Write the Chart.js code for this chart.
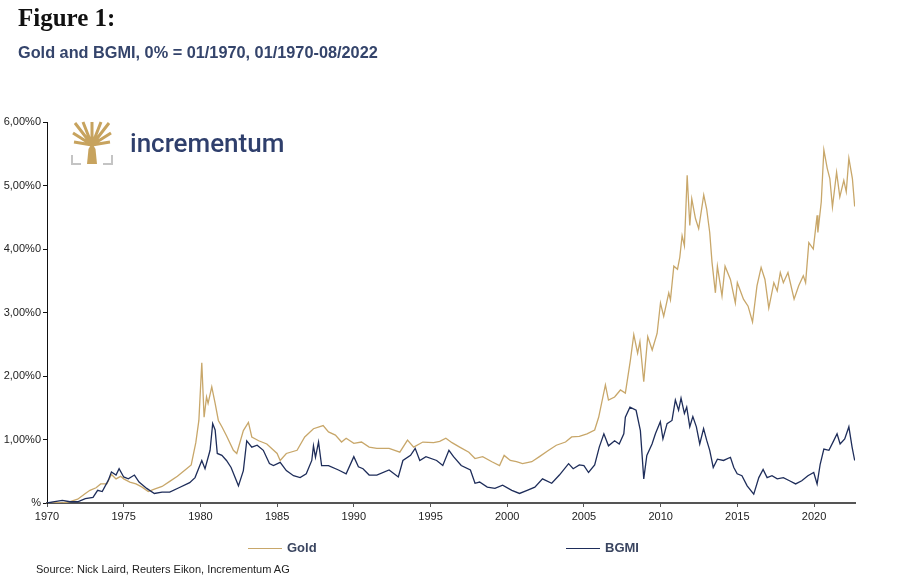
<!DOCTYPE html>
<html>
<head>
<meta charset="utf-8">
<script src="https://cdn.jsdelivr.net/npm/chart.js@4.4.0/dist/chart.umd.min.js"></script>
<style>
  body { margin: 0; background: #fff; font-family: "Liberation Sans", Arial, sans-serif; }
  #page { position: relative; width: 900px; height: 579px; overflow: hidden; }
  #chart { position: absolute; left: 0; top: 0; }
  .title { position: absolute; left: 18px; top: 4px; font-family: "Liberation Serif", serif; font-weight: bold; font-size: 25px; color: #111; }
  .subtitle { position: absolute; left: 18px; top: 43px; font-weight: bold; font-size: 16.3px; color: #34446b; }
  .logo { position: absolute; left: 71px; top: 121px; }
  .brand { position: absolute; left: 130px; top: 128px; font-family: Roboto, "Liberation Sans", sans-serif; font-weight: 500; font-size: 26px; color: #2f3f6c; }
  .legend { position: absolute; top: 540px; font-weight: bold; font-size: 13px; color: #3a4560; }
  .legend span.line { display: inline-block; width: 34px; height: 0; border-top: 1px solid; vertical-align: middle; margin-right: 5px; }
  .source { position: absolute; left: 36px; top: 563px; font-size: 11px; color: #222; }
</style>
</head>
<body>
<div id="page">
  <canvas id="chart" width="900" height="579"></canvas>
  <div class="title">Figure 1:</div>
  <div class="subtitle">Gold and BGMI, 0% = 01/1970, 01/1970-08/2022</div>
  <svg class="logo" width="42" height="44" viewBox="0 0 42 44">
    <g stroke="#c7a35e" stroke-width="3" fill="none" stroke-linecap="butt">
      <path d="M21 24 L4 2 M21 24 L38 2 M21 24 L2 12 M21 24 L40 12 M21 24 L3 21 M21 24 L39 21 M21 24 L12 1 M21 24 L30 1 M21 24 L21 1"/>
    </g>
    <path d="M16 43 L17.5 28 L21 22 L24.5 28 L26 43 Z" fill="#c7a35e"/>
    <g stroke="#c4c4c4" stroke-width="2" fill="none">
      <path d="M1 34 L1 43 L10 43 M41 34 L41 43 L32 43"/>
    </g>
  </svg>
  <div class="brand">incrementum</div>
  <div class="legend" style="left:248px"><span class="line" style="border-color:#c8a76a"></span>Gold</div>
  <div class="legend" style="left:566px"><span class="line" style="border-color:#1e2d5a"></span>BGMI</div>
  <div class="source">Source: Nick Laird, Reuters Eikon, Incrementum AG</div>
</div>
<script>
// values in thousands of percent (1 = 1,000%)
const goldYears = [
  1970.0, 1970.5, 1971.0, 1971.5, 1972.0, 1972.5, 1972.8, 1973.2, 1973.5, 1973.9,
  1974.2, 1974.5, 1974.8, 1975.0, 1975.4, 1975.8, 1976.2, 1976.6, 1977.0, 1977.5,
  1978.0, 1978.5, 1979.0, 1979.4, 1979.7, 1979.9, 1980.09, 1980.24, 1980.4, 1980.5,
  1980.74, 1980.96, 1981.17, 1981.4, 1981.7, 1982.15, 1982.37, 1982.8, 1983.13, 1983.35,
  1983.8, 1984.33, 1985.0, 1985.2, 1985.6, 1986.3, 1986.8, 1987.37, 1988.0, 1988.35,
  1988.8, 1989.2, 1989.5, 1990.0, 1990.5, 1991.0, 1991.5, 1992.3, 1993.0, 1993.5,
  1993.9, 1994.5, 1995.2, 1995.6, 1996.0, 1996.4, 1996.9, 1997.5, 1997.9, 1998.4,
  1999.0, 1999.5, 1999.8, 2000.2, 2000.6, 2001.0, 2001.6, 2002.1, 2002.7, 2003.2,
  2003.8, 2004.2, 2004.7, 2005.2, 2005.7, 2005.96, 2006.4, 2006.6, 2007.0, 2007.38,
  2007.7, 2008.03, 2008.25, 2008.5, 2008.65, 2008.9, 2009.16, 2009.45, 2009.77, 2009.99,
  2010.2, 2010.53, 2010.64, 2010.86, 2011.1, 2011.25, 2011.4, 2011.55, 2011.73, 2011.9,
  2012.03, 2012.27, 2012.48, 2012.81, 2013.0, 2013.2, 2013.35, 2013.57, 2013.7, 2014.0,
  2014.2, 2014.55, 2014.87, 2015.0, 2015.4, 2015.7, 2015.99, 2016.28, 2016.55, 2016.8,
  2017.05, 2017.38, 2017.6, 2017.8, 2018.0, 2018.3, 2018.7, 2019.0, 2019.3, 2019.45,
  2019.66, 2019.95, 2020.2, 2020.25, 2020.47, 2020.64, 2020.86, 2021.03, 2021.2, 2021.47,
  2021.68, 2021.94, 2022.1, 2022.27, 2022.5, 2022.65
];
const goldValues = [
  0.00, 0.01, 0.00, 0.02, 0.06, 0.15, 0.20, 0.24, 0.30, 0.30,
  0.45, 0.38, 0.42, 0.38, 0.33, 0.30, 0.25, 0.18, 0.22, 0.26,
  0.34, 0.42, 0.52, 0.60, 0.95, 1.30, 2.21, 1.35, 1.67, 1.57,
  1.83, 1.57, 1.30, 1.20, 1.06, 0.83, 0.78, 1.14, 1.27, 1.04,
  0.98, 0.93, 0.78, 0.67, 0.78, 0.83, 1.04, 1.17, 1.22, 1.12,
  1.07, 0.96, 1.02, 0.94, 0.96, 0.88, 0.86, 0.86, 0.80, 0.99,
  0.88, 0.96, 0.95, 0.97, 1.02, 0.95, 0.88, 0.80, 0.70, 0.73,
  0.65, 0.59, 0.75, 0.67, 0.65, 0.62, 0.65, 0.73, 0.83, 0.91,
  0.96, 1.04, 1.05, 1.09, 1.15, 1.35, 1.86, 1.62, 1.67, 1.78,
  1.73, 2.25, 2.65, 2.36, 2.54, 1.91, 2.62, 2.41, 2.67, 3.15,
  2.94, 3.31, 3.20, 3.73, 3.68, 3.87, 4.21, 4.05, 5.16, 4.37,
  4.79, 4.48, 4.32, 4.85, 4.63, 4.26, 3.79, 3.31, 3.73, 3.26,
  3.73, 3.52, 3.15, 3.47, 3.21, 3.10, 2.85, 3.42, 3.71, 3.52,
  3.07, 3.47, 3.34, 3.63, 3.47, 3.63, 3.21, 3.42, 3.58, 3.47,
  4.10, 4.00, 4.53, 4.26, 4.74, 5.56, 5.27, 5.11, 4.66, 5.21,
  4.82, 5.08, 4.90, 5.43, 5.11, 4.67
];

const bgmiYears = [
  1970.0, 1970.5, 1971.0, 1971.5, 1972.0, 1972.5, 1973.0, 1973.3, 1973.6, 1974.0,
  1974.2, 1974.5, 1974.7, 1975.0, 1975.3, 1975.7, 1976.0, 1976.5, 1977.0, 1977.5,
  1978.0, 1978.6, 1979.3, 1979.65, 1980.09, 1980.3, 1980.63, 1980.8, 1980.96, 1981.1,
  1981.4, 1981.7, 1982.0, 1982.48, 1982.8, 1983.02, 1983.35, 1983.7, 1984.1, 1984.5,
  1984.76, 1985.2, 1985.6, 1986.07, 1986.5, 1986.9, 1987.26, 1987.37, 1987.5, 1987.7,
  1987.9, 1988.35, 1989.0, 1989.5, 1990.0, 1990.3, 1990.6, 1991.0, 1991.5, 1992.3,
  1992.9, 1993.2, 1993.7, 1994.0, 1994.3, 1994.7, 1995.4, 1995.8, 1996.2, 1996.5,
  1997.0, 1997.6, 1997.9, 1998.2, 1998.7, 1999.2, 1999.7, 2000.3, 2000.8, 2001.3,
  2001.8, 2002.3, 2002.9, 2003.4, 2004.0, 2004.3, 2004.7, 2005.0, 2005.3, 2005.7,
  2006.0, 2006.3, 2006.6, 2007.0, 2007.3, 2007.6, 2007.7, 2008.0, 2008.4, 2008.68,
  2008.9, 2009.1, 2009.44, 2009.66, 2009.98, 2010.15, 2010.42, 2010.74, 2010.96, 2011.17,
  2011.33, 2011.55, 2011.7, 2011.9, 2012.1, 2012.33, 2012.55, 2012.8, 2013.0, 2013.2,
  2013.43, 2013.7, 2014.1, 2014.55, 2014.77, 2014.99, 2015.3, 2015.64, 2016.07, 2016.4,
  2016.68, 2016.94, 2017.26, 2017.6, 2018.0, 2018.4, 2018.8, 2019.2, 2019.6, 2019.98,
  2020.2, 2020.4, 2020.64, 2020.97, 2021.3, 2021.5, 2021.7, 2022.0, 2022.27, 2022.48,
  2022.65
];
const bgmiValues = [
  0.00, 0.02, 0.04, 0.02, 0.02, 0.07, 0.09, 0.20, 0.18, 0.36,
  0.49, 0.44, 0.54, 0.41, 0.38, 0.44, 0.33, 0.23, 0.15, 0.17,
  0.17, 0.24, 0.32, 0.40, 0.67, 0.54, 0.83, 1.25, 1.15, 0.78,
  0.75, 0.67, 0.56, 0.27, 0.51, 0.98, 0.88, 0.91, 0.83, 0.62,
  0.59, 0.64, 0.51, 0.43, 0.40, 0.46, 0.67, 0.90, 0.72, 0.96,
  0.59, 0.59, 0.52, 0.46, 0.73, 0.57, 0.54, 0.44, 0.44, 0.52,
  0.41, 0.67, 0.75, 0.86, 0.67, 0.73, 0.67, 0.59, 0.83, 0.73,
  0.59, 0.52, 0.31, 0.33, 0.25, 0.23, 0.28, 0.20, 0.15, 0.20,
  0.25, 0.38, 0.31, 0.44, 0.62, 0.54, 0.60, 0.59, 0.48, 0.60,
  0.88, 1.09, 0.90, 0.98, 0.93, 1.09, 1.35, 1.51, 1.46, 1.14,
  0.38, 0.75, 0.93, 1.09, 1.28, 1.01, 1.25, 1.30, 1.62, 1.46,
  1.65, 1.41, 1.51, 1.20, 1.36, 1.20, 0.93, 1.17, 0.99, 0.83,
  0.56, 0.69, 0.67, 0.72, 0.56, 0.46, 0.43, 0.27, 0.14, 0.40,
  0.53, 0.40, 0.43, 0.38, 0.40, 0.35, 0.30, 0.35, 0.43, 0.48,
  0.30, 0.61, 0.85, 0.83, 0.99, 1.09, 0.93, 1.01, 1.20, 0.88,
  0.67
];

const xTickYears = [1970, 1975, 1980, 1985, 1990, 1995, 2000, 2005, 2010, 2015, 2020];
const yTickValues = [0, 1, 2, 3, 4, 5, 6];
const yTickLabels = ['%', '1,00%0', '2,00%0', '3,00%0', '4,00%0', '5,00%0', '6,00%0'];

const GOLD = '#c8a76a';
const NAVY = '#1e2d5a';

function toPoints(xs, ys) {
  return xs.map((x, i) => ({ x: x, y: ys[i] }));
}

const ctx = document.getElementById('chart').getContext('2d');
new Chart(ctx, {
  type: 'line',
  data: {
    datasets: [
      {
        label: 'BGMI',
        data: toPoints(bgmiYears, bgmiValues),
        borderColor: NAVY,
        borderWidth: 1.3,
        pointRadius: 0,
        tension: 0
      },
      {
        label: 'Gold',
        data: toPoints(goldYears, goldValues),
        borderColor: GOLD,
        borderWidth: 1.3,
        pointRadius: 0,
        tension: 0
      }
    ]
  },
  options: {
    responsive: false,
    animation: false,
    layout: { padding: { left: 0, top: 122, right: 45, bottom: 0 } },
    plugins: {
      legend: { display: false },
      tooltip: { enabled: false }
    },
    scales: {
      x: {
        type: 'linear',
        min: 1970,
        max: 2022.67,
        afterBuildTicks: s => { s.ticks = xTickYears.map(v => ({ value: v })); },
        afterFit: s => { s.height = 76; },
        grid: { drawOnChartArea: false, drawTicks: true, tickLength: 4, color: '#555' },
        border: { color: '#555', width: 2 },
        ticks: {
          color: '#222',
          font: { family: 'Liberation Sans, Arial, sans-serif', size: 11 },
          padding: 3,
          maxRotation: 0,
          autoSkip: false,
          callback: v => String(v)
        }
      },
      y: {
        min: 0,
        max: 6,
        afterBuildTicks: s => { s.ticks = yTickValues.map(v => ({ value: v })); },
        afterFit: s => { s.width = 47; },
        grid: { drawOnChartArea: false, drawTicks: true, tickLength: 4, color: '#111' },
        border: { color: '#111', width: 1 },
        ticks: {
          color: '#222',
          font: { family: 'Liberation Sans, Arial, sans-serif', size: 11 },
          padding: 2,
          autoSkip: false,
          callback: v => yTickLabels[yTickValues.indexOf(v)]
        }
      }
    }
  }
});
</script>
</body>
</html>
